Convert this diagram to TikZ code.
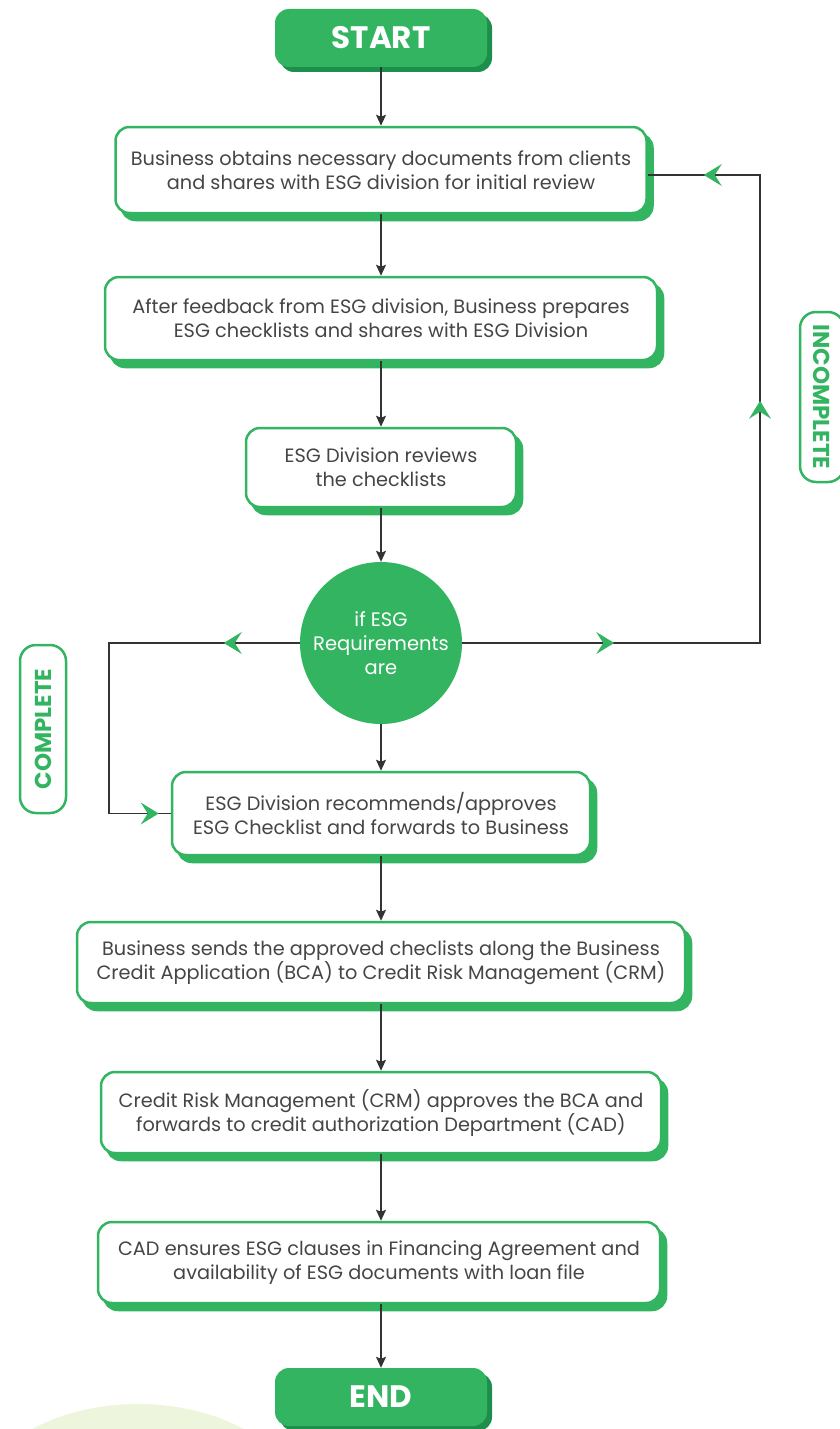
\documentclass[tikz,border=0pt]{standalone}
\usepackage{fontspec}
\setmainfont{Poppins}
\usetikzlibrary{arrows.meta,shadows,decorations.markings}
\definecolor{esg}{HTML}{33B461}
\definecolor{esgdark}{HTML}{1E8E4C}
\definecolor{txt}{HTML}{454545}
\definecolor{lineg}{HTML}{333333}
\definecolor{blob}{HTML}{EDF5DC}
\begin{document}
\begin{tikzpicture}[x=1pt,y=-1pt,
  proc/.style={draw=esg, line width=2.5pt, fill=white, rounded corners=14pt,
    align=center, text=txt, font=\fontsize{19.3}{24}\selectfont, inner sep=0pt,
    general shadow={fill=esg, draw=esg, line width=2.5pt, shadow xshift=6pt, shadow yshift=-7pt}},
  term/.style={fill=esg, rounded corners=14pt, text=white,
    font=\fontsize{31}{32}\selectfont\bfseries, minimum width=212pt, minimum height=58pt,
    general shadow={fill=esgdark, shadow xshift=5pt, shadow yshift=-5pt}},
  dec/.style={circle, fill=esg, minimum size=162pt, inner sep=0pt, align=center,
    text=white, font=\fontsize{19.5}{24}\selectfont},
  tag/.style={draw=esg, line width=2.5pt, rounded corners=16pt, text=esg,
    font=\fontsize{23}{24}\selectfont\bfseries, minimum height=44pt, inner sep=0pt},
  flow/.style={draw=lineg, line width=1.4pt, -{Stealth[length=11pt,width=10pt,inset=2pt]}},
  loopline/.style={draw=lineg, line width=1.4pt, postaction={decorate}}]
\useasboundingbox (0,0) rectangle (840,1429);
\fill[blob] (138,1522) ellipse [x radius=172pt, y radius=118pt];

\node[term] (start) at (381,38) {START};
\node[proc, minimum width=531pt, minimum height=86pt] (b1) at (381,170)
  {Business obtains necessary documents from clients\\and shares with ESG division for initial review};
\node[proc, minimum width=552pt, minimum height=83pt] (b2) at (381,318.5)
  {After feedback from ESG division, Business prepares\\ESG checklists and shares with ESG Division};
\node[proc, minimum width=270pt, minimum height=79pt] (b3) at (381,467.5)
  {ESG Division reviews\\the checklists};
\node[dec] (d) at (381,643) {if ESG\\Requirements\\are};
\node[proc, minimum width=418pt, minimum height=83pt] (b4) at (381,813.5)
  {ESG Division recommends/approves\\ESG Checklist and forwards to Business};
\node[proc, minimum width=608pt, minimum height=81pt] (b5) at (381,962.5)
  {Business sends the approved checlists along the Business\\Credit Application (BCA) to Credit Risk Management (CRM)};
\node[proc, minimum width=560pt, minimum height=81pt] (b6) at (381,1112.5)
  {Credit Risk Management (CRM) approves the BCA and\\forwards to credit authorization Department (CAD)};
\node[proc, minimum width=562pt, minimum height=81pt] (b7) at (379,1262.5)
  {CAD ensures ESG clauses in Financing Agreement and\\availability of ESG documents with loan file};
\node[term] (end) at (381,1397) {END};

\node[tag, rotate=-90, minimum width=170pt] (inc) at (822,397) {INCOMPLETE};
\node[tag, rotate=90, minimum width=168pt, minimum height=46pt] (comp) at (43,729) {COMPLETE};

\draw[flow] (start.south) -- (b1.north);
\draw[flow] (b1.south) -- (b2.north);
\draw[flow] (b2.south) -- (b3.north);
\draw[flow] (b3.south) -- (d.north);
\draw[flow] (d.south) -- (b4.north);
\draw[flow] (b4.south) -- (b5.north);
\draw[flow] (b5.south) -- (b6.north);
\draw[flow] (b6.south) -- (b6.south |- b7.north);
\draw[flow] (b7.south -| end.north) -- (end.north);

\coordinate (rc) at (760,643);
\coordinate (lc) at (109,643);
\draw[loopline, decoration={markings,
    mark=at position 152pt with {\arrow{Stealth[length=18pt,width=22pt,inset=7pt,color=esg,line width=0pt]}},
    mark=at position 540pt with {\arrow{Stealth[length=18pt,width=22pt,inset=7pt,color=esg,line width=0pt]}},
    mark=at position 822pt with {\arrow{Stealth[length=18pt,width=22pt,inset=7pt,color=esg,line width=0pt]}}}]
  (d.east) -- (rc) |- ([yshift=-5pt]b1.east);
\draw[loopline, decoration={markings,
    mark=at position 76pt with {\arrow{Stealth[length=18pt,width=22pt,inset=7pt,color=esg,line width=0pt]}},
    mark=at position 411pt with {\arrow{Stealth[length=18pt,width=22pt,inset=7pt,color=esg,line width=0pt]}}}]
  (d.west) -- (lc) |- (b4.west);
\end{tikzpicture}
\end{document}
